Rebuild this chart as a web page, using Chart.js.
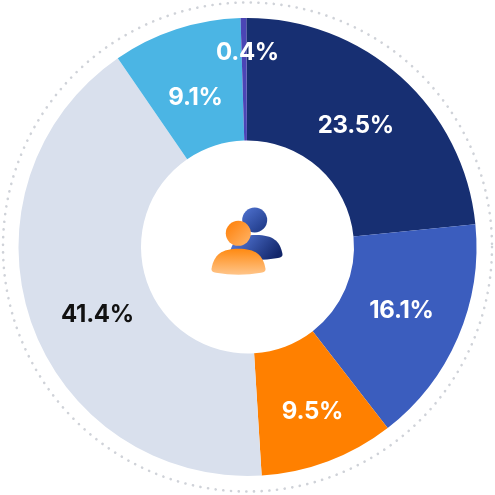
<!DOCTYPE html>
<html>
<head>
<meta charset="utf-8">
<style>
html, body { margin: 0; padding: 0; background: #fff; }
#wrap { width: 495px; height: 495px; }
</style>
<script src="https://cdn.jsdelivr.net/npm/chart.js@4"></script>
</head>
<body>
<div id="wrap"><canvas id="donut" width="495" height="495"></canvas></div>
<script>
const categories = ['A', 'B', 'C', 'D', 'E', 'F'];
const shares = [23.5, 16.1, 9.5, 41.4, 9.1, 0.4];
const sliceColors = ['#172f72', '#3b5dbe', '#ff8000', '#d9e0ed', '#4bb5e4', '#4b45b5'];
const labelColors = ['#fff', '#fff', '#fff', '#111', '#fff', '#fff'];
const labelRadius = [164, 166, 175.5, 164, 159, 196];
const labelTurn = [-0.7, -1.3, -1.1, -4.8, -1, 1];

const sliceLabels = {
    id: 'sliceLabels',
    afterDatasetsDraw(chart) {
        const ctx = chart.ctx;
        const arcs = chart.getDatasetMeta(0).data;
        ctx.save();
        ctx.font = '700 24px Inter, sans-serif';
        ctx.letterSpacing = '-0.3px';
        ctx.textAlign = 'center';
        ctx.textBaseline = 'middle';
        arcs.forEach((arc, i) => {
            const mid = (arc.startAngle + arc.endAngle) / 2 + labelTurn[i] * Math.PI / 180;
            ctx.fillStyle = labelColors[i];
            ctx.fillText(shares[i].toFixed(1) + '%', arc.x + Math.cos(mid) * labelRadius[i], arc.y + Math.sin(mid) * labelRadius[i] + 1.5);
        });
        ctx.restore();
    }
};

const dottedRing = {
    id: 'dottedRing',
    beforeDatasetsDraw(chart) {
        const ctx = chart.ctx;
        const arc = chart.getDatasetMeta(0).data[0];
        ctx.save();
        ctx.strokeStyle = '#cfd2d8';
        ctx.lineWidth = 2.6;
        ctx.lineCap = 'round';
        ctx.setLineDash([0.1, 7.6]);
        ctx.beginPath();
        ctx.arc(arc.x, arc.y, 244.5, 0, Math.PI * 2);
        ctx.stroke();
        ctx.restore();
    }
};

function gradient(ctx, x0, y0, x1, y1, from, to) {
    const g = ctx.createLinearGradient(x0, y0, x1, y1);
    g.addColorStop(0, from);
    g.addColorStop(1, to);
    return g;
}

function head(ctx, x, y, r, fill) {
    ctx.fillStyle = fill;
    ctx.beginPath();
    ctx.arc(x, y, r, 0, Math.PI * 2);
    ctx.fill();
}

function body(ctx, left, right, top, bottom, fill) {
    const cx = (left + right) / 2;
    ctx.fillStyle = fill;
    ctx.beginPath();
    ctx.moveTo(left + 0.5, bottom - 6);
    ctx.bezierCurveTo(left + 3, top + 6, cx - 17, top, cx, top);
    ctx.bezierCurveTo(cx + 17, top, right - 3, top + 6, right - 0.5, bottom - 6);
    ctx.quadraticCurveTo(right, bottom - 3, right - 5, bottom - 2);
    ctx.quadraticCurveTo(cx, bottom + 2, left + 5, bottom - 2);
    ctx.quadraticCurveTo(left, bottom - 3, left + 0.5, bottom - 6);
    ctx.closePath();
    ctx.fill();
}

const centerIcon = {
    id: 'centerIcon',
    afterDraw(chart) {
        const ctx = chart.ctx;
        ctx.save();
        head(ctx, 254.7, 220, 12.5, gradient(ctx, 246, 210, 264, 231, '#4a6cc8', '#1f3a88'));
        body(ctx, 229, 283, 235, 260, gradient(ctx, 240, 236, 272, 262, '#4f72d0', '#12266a'));
        head(ctx, 238.3, 233.3, 12.5, gradient(ctx, 229, 224, 248, 243, '#ff8410', '#ffb060'));
        body(ctx, 211, 266, 248.7, 274.7, gradient(ctx, 238, 249, 238, 276, '#ff8a12', '#ffc890'));
        ctx.restore();
    }
};

new Chart(document.getElementById('donut'), {
    type: 'doughnut',
    data: {
        labels: categories,
        datasets: [{
            data: shares,
            backgroundColor: sliceColors,
            borderWidth: 0
        }]
    },
    options: {
        responsive: false,
        animation: false,
        cutout: 106.5,
        rotation: -0.3,
        layout: { padding: { left: 18.5, top: 18, right: 18.5, bottom: 19 } },
        plugins: {
            legend: { display: false },
            tooltip: { enabled: false }
        }
    },
    plugins: [dottedRing, sliceLabels, centerIcon]
});
</script>
</body>
</html>
